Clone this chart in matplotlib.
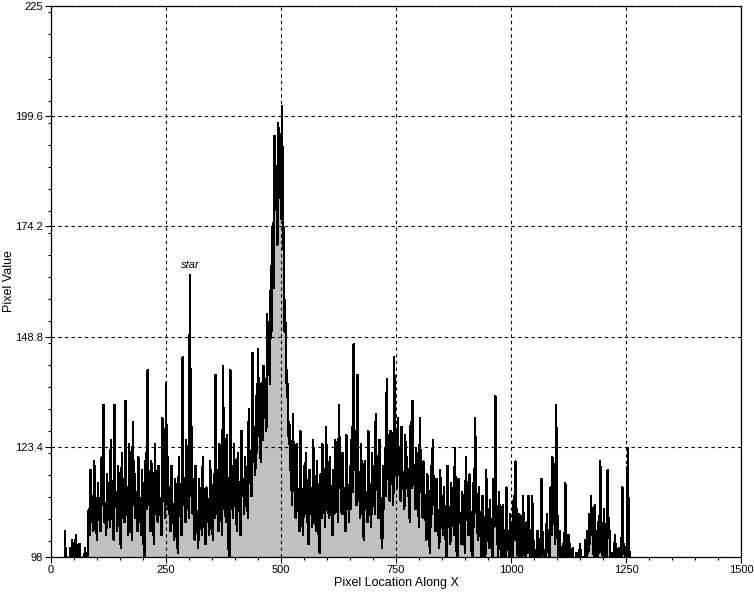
import numpy as np
import matplotlib
matplotlib.use("Agg")
import matplotlib.pyplot as plt
from matplotlib.ticker import MultipleLocator, FixedLocator

plt.rcParams["font.family"] = ["Liberation Sans", "DejaVu Sans"]

# profile: upper samples at x = 30, 34, 38 ...
# and lower samples in between at x = 32, 36, 40 ...
x_start = 30
x_step = 4
upper_values = [
    104, 98, 97, 100, 102, 99, 103, 98, 101, 97, 98, 100, 97, 109, 118, 112, 120, 106, 115, 110, 121, 133, 108, 117, 112,
    125, 107, 133, 113, 119, 104, 122, 116, 134, 110, 124, 108, 129, 117, 113, 121, 109, 118, 99, 122, 141, 112, 120, 106, 124,
    115, 119, 109, 130, 117, 138, 121, 113, 119, 108, 116, 102, 121, 111, 144, 115, 125, 118, 163, 128, 112, 119, 106, 116, 110,
    121, 105, 114, 109, 120, 107, 117, 140, 112, 124, 110, 142, 118, 126, 100, 141, 119, 124, 113, 122, 109, 127, 116, 121, 114,
    132, 121, 145, 128, 135, 146, 131, 138, 142, 134, 154, 147, 165, 175, 195, 188, 198, 190, 202, 168, 152, 138, 129, 119, 131,
    113, 124, 110, 127, 108, 119, 122, 106, 118, 112, 125, 109, 120, 103, 117, 124, 111, 128, 114, 121, 108, 118, 125, 112, 133,
    116, 122, 109, 126, 113, 119, 128, 147, 121, 140, 115, 124, 107, 120, 113, 127, 110, 122, 118, 131, 114, 125, 104, 119, 123,
    139, 120, 127, 118, 144, 124, 130, 119, 128, 116, 126, 121, 113, 129, 134, 117, 123, 112, 130, 115, 120, 108, 117, 103, 119,
    125, 111, 116, 105, 118, 109, 114, 102, 119, 107, 115, 110, 123, 99, 116, 108, 113, 104, 121, 110, 117, 100, 115, 130, 109,
    114, 103, 112, 98, 118, 106, 111, 100, 116, 135, 104, 113, 99, 110, 97, 114, 102, 108, 97, 112, 120, 99, 108, 100, 112,
    98, 106, 112, 99, 112, 101, 97, 104, 98, 116, 100, 97, 108, 99, 114, 121, 110, 133, 99, 104, 97, 101, 115, 98, 103,
    97, 100, 97, 99, 97, 101, 97, 98, 102, 104, 108, 112, 103, 110, 98, 106, 120, 101, 109, 97, 118, 104, 99, 97, 103,
    97, 100, 99, 114, 101, 99, 123, 98,
]
lower_values = [
    97, 97, 97, 97, 98, 97, 99, 97, 97, 97, 97, 97, 97, 103, 106, 104, 108, 102, 107, 104, 110, 106, 103, 108, 105,
    108, 102, 110, 104, 109, 100, 107, 106, 111, 103, 109, 102, 110, 107, 104, 108, 103, 107, 98, 109, 111, 104, 110, 101, 108,
    106, 109, 103, 111, 107, 110, 108, 104, 109, 102, 107, 99, 108, 103, 110, 106, 109, 107, 112, 108, 102, 107, 100, 106, 103,
    108, 101, 106, 103, 109, 102, 107, 108, 104, 110, 103, 109, 106, 111, 98, 109, 107, 110, 104, 111, 103, 112, 108, 111, 107,
    115, 112, 120, 117, 122, 126, 120, 125, 130, 127, 140, 138, 150, 160, 178, 170, 185, 176, 180, 150, 138, 126, 118, 110, 114,
    107, 110, 104, 111, 103, 108, 110, 101, 108, 105, 111, 104, 109, 99, 107, 111, 105, 112, 107, 110, 103, 108, 111, 106, 114,
    108, 111, 104, 112, 106, 109, 113, 118, 110, 116, 107, 111, 102, 109, 106, 112, 105, 110, 108, 115, 107, 111, 100, 109, 112,
    116, 111, 115, 110, 118, 114, 117, 111, 116, 109, 114, 112, 106, 114, 116, 109, 112, 105, 113, 107, 110, 102, 108, 99, 108,
    110, 104, 107, 100, 108, 103, 106, 98, 108, 101, 106, 103, 109, 97, 106, 101, 104, 99, 108, 103, 106, 97, 105, 110, 102,
    104, 98, 103, 97, 106, 100, 103, 97, 105, 110, 98, 103, 97, 101, 97, 104, 97, 100, 97, 102, 106, 97, 100, 97, 102,
    97, 99, 103, 97, 102, 97, 97, 98, 97, 104, 97, 97, 100, 97, 103, 108, 101, 112, 97, 98, 97, 97, 104, 97, 98,
    97, 97, 97, 97, 97, 97, 97, 97, 97, 99, 101, 103, 98, 101, 97, 99, 106, 97, 101, 97, 104, 98, 97, 97, 98,
    97, 97, 97, 101, 97, 97, 101, 97,
]

y_ticks = [98, 123.4, 148.8, 174.2, 199.6, 225]
x_ticks = [0, 250, 500, 750, 1000, 1250, 1500]

n = len(upper_values)
x = np.empty(2 * n)
y = np.empty(2 * n)
x[0::2] = x_start + x_step * np.arange(n)
x[1::2] = x_start + x_step * np.arange(n) + x_step / 2
y[0::2] = upper_values
y[1::2] = lower_values

fig = plt.figure(figsize=(7.54, 5.95), dpi=100)
ax = fig.add_axes([51 / 754, 38 / 595, 690 / 754, 551 / 595])

ax.fill_between(x, 98, y, color="#c0c0c0", linewidth=0)
ax.plot(x, y, color="black", linewidth=1.0, antialiased=False)

ax.set_xlim(0, 1500)
ax.set_ylim(98, 225)
ax.xaxis.set_major_locator(FixedLocator(x_ticks))
ax.xaxis.set_minor_locator(MultipleLocator(50))
ax.yaxis.set_major_locator(FixedLocator(y_ticks))
ax.yaxis.set_minor_locator(MultipleLocator(5.08))
ax.set_yticklabels([str(t) if t % 1 else str(int(t)) for t in y_ticks])

ax.grid(True, which="major", color="black", linestyle=(0, (3, 3)), linewidth=0.8)
ax.tick_params(which="major", direction="out", length=4, width=0.8, labelsize=8, pad=2)
ax.tick_params(which="minor", direction="out", length=2.5, width=0.8)
for s in ax.spines.values():
    s.set_linewidth(0.9)

ax.set_xlabel("Pixel Location Along X", fontsize=9, labelpad=1)
ax.set_ylabel("Pixel Value", fontsize=9)
ax.yaxis.set_label_coords(-36 / 690, 0.5)

ax.text(302, 165.3, "star", fontsize=8, style="italic", ha="center", va="center")

fig.savefig("out.png", dpi=100)
